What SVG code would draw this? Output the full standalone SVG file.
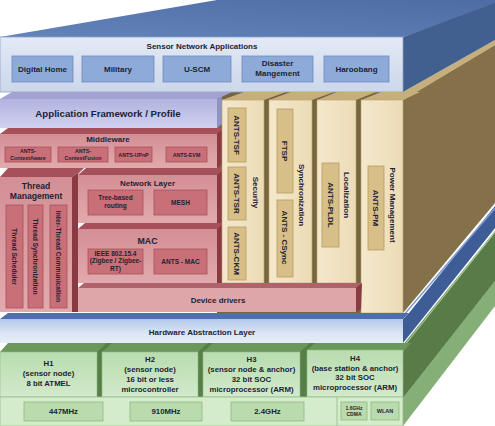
<svg xmlns="http://www.w3.org/2000/svg" width="495" height="426" viewBox="0 0 495 426">
<defs>
<style>
text{font-family:"Liberation Sans",Arial,Helvetica,sans-serif;font-weight:bold;fill:#1d2334;text-anchor:middle}
.s8{font-size:8px}
.s78{font-size:7.8px}
.s67{font-size:6.7px}
.s65{font-size:6.5px}
.s53{font-size:5.3px}
.s5{font-size:5px}
.blueBox{fill:#8eaad8;stroke:#6f8bbf;stroke-width:0.8}
.redBox{fill:#c86f77;stroke:#a8525b;stroke-width:0.8}
.redTop{fill:#a5505a}
.redSide{fill:#8a3a43}
.tanBox{fill:#d8bf88;stroke:#b69c64;stroke-width:0.8}
.tanFront{fill:url(#gTan);stroke:#b9a271;stroke-width:0.6}
.tanTop{fill:#c6af7a}
.olive{fill:#76653f}
.grnBox{fill:#b9dbae;stroke:#8db880;stroke-width:0.8}
.grnFront{fill:url(#gGrn);stroke:#8fb882;stroke-width:0.6}
.grnDiv{fill:#557f47}
</style>
<linearGradient id="gSensor" x1="0" y1="0" x2="0" y2="1"><stop offset="0" stop-color="#e3eaf6"/><stop offset="1" stop-color="#ccd7eb"/></linearGradient>
<linearGradient id="gTop" x1="0" y1="1" x2="1" y2="0"><stop offset="0" stop-color="#6383bb"/><stop offset="1" stop-color="#4d6ca3"/></linearGradient>
<linearGradient id="gLav" x1="0" y1="0" x2="0" y2="1"><stop offset="0" stop-color="#b2b3e0"/><stop offset="1" stop-color="#d0d1ef"/></linearGradient>
<linearGradient id="gRed" x1="0" y1="0" x2="0" y2="1"><stop offset="0" stop-color="#d38f95"/><stop offset="1" stop-color="#e2aaae"/></linearGradient>
<linearGradient id="gTan" x1="0" y1="0" x2="1" y2="0"><stop offset="0" stop-color="#f4e8cc"/><stop offset="1" stop-color="#ecdbb6"/></linearGradient>
<linearGradient id="gHal" x1="0" y1="0" x2="0" y2="1"><stop offset="0" stop-color="#b3c8ea"/><stop offset="0.6" stop-color="#dbe5f5"/><stop offset="1" stop-color="#e6edf8"/></linearGradient>
<linearGradient id="gGrn" x1="0" y1="0" x2="0" y2="1"><stop offset="0" stop-color="#b8dcaf"/><stop offset="1" stop-color="#d2eacb"/></linearGradient>
</defs>
<rect width="495" height="426" fill="#ffffff"/>

<g id="faces">
  <polygon points="403,92 495,40 495,45 403,100" fill="#c6af7a"/>
  <polygon points="403,100 495,45 495,203 403,313" fill="#84714a"/>
  <polygon points="217,92 403,92 403,313 217,313" class="olive"/>
  <polygon points="403,319 409,313 495,206 495,228 403,343" fill="#3e5d97"/>
  <line x1="403" y1="316" x2="495" y2="208" stroke="#7d9bd2" stroke-width="1.5"/>
  <polygon points="403,345 495,231 495,280 403,397" fill="#587b48"/>
  <line x1="404" y1="346" x2="495" y2="232" stroke="#a9cf9c" stroke-width="1.2"/>
  <polygon points="403,397 495,280 495,306 403,426" fill="#86ae77"/>
  <line x1="403" y1="397" x2="495" y2="280" stroke="#3f6634" stroke-width="0.8"/>
</g>

<g id="sensor-apps">
  <polygon points="0,37 403,37 508,0 217,0" fill="url(#gTop)"/>
  <polygon points="403,37 495,3 495,40 403,92" fill="#42608f"/>
  <rect x="0" y="37" width="403" height="55" fill="url(#gSensor)" stroke="#8ea0c4" stroke-width="0.8"/>
  <text class="s8" x="202" y="49">Sensor Network Applications</text>
  <rect class="blueBox" x="12" y="56" width="61" height="26"/>
  <text class="s8" x="42.5" y="72">Digital Home</text>
  <rect class="blueBox" x="82" y="56" width="72" height="26"/>
  <text class="s8" x="118" y="72">Military</text>
  <rect class="blueBox" x="163" y="56" width="68" height="26"/>
  <text class="s8" x="197" y="72">U-SCM</text>
  <rect class="blueBox" x="242" y="56" width="71" height="26"/>
  <text class="s8" x="277.5" y="66">Disaster</text>
  <text class="s8" x="277.5" y="76">Mangement</text>
  <rect class="blueBox" x="324" y="56" width="65" height="26"/>
  <text class="s8" x="356.5" y="72">Haroobang</text>
</g>

<g id="app-framework">
  <polygon points="0,99 217,99 232,92 12,92" fill="#a3a3d3"/>
  <polygon points="217,99 232,92 222,96 222,124 217,128" fill="#9191c2"/>
  <rect x="0" y="99" width="217" height="29" fill="url(#gLav)"/>
  <text x="108" y="116.5" style="font-size:9.7px">Application Framework / Profile</text>
</g>

<g id="middleware">
  <polygon points="0,134 217,134 226,128 8,128" class="redTop"/>
  <polygon points="217,134 222,130 222,164 217,168" class="redSide"/>
  <rect x="0" y="134" width="217" height="34" fill="url(#gRed)"/>
  <text class="s8" x="108" y="142">Middleware</text>
  <rect class="redBox" x="5" y="147" width="46" height="15"/>
  <text class="s53" x="28" y="153">ANTS-</text>
  <text class="s53" x="28" y="159.5">ContextAware</text>
  <rect class="redBox" x="58" y="147" width="50" height="15"/>
  <text class="s53" x="83" y="153">ANTS-</text>
  <text class="s53" x="83" y="159.5">ContextFusion</text>
  <rect class="redBox" x="115" y="147" width="37" height="15"/>
  <text class="s53" x="133.5" y="156.5">ANTS-UPnP</text>
  <rect class="redBox" x="166" y="147" width="41" height="15"/>
  <text class="s53" x="186.5" y="156.5">ANTS-EVM</text>
</g>

<g id="thread-management">
  <polygon points="0,177 72,177 84,168 8,168" class="redTop"/>
  <polygon points="72,177 84,168 78,174 78,312 72,312" class="redSide"/>
  <rect x="0" y="177" width="72" height="135" fill="url(#gRed)"/>
  <text style="font-size:8.6px" x="36" y="188.5">Thread</text>
  <text style="font-size:8.6px" x="36" y="198.5">Management</text>
  <rect class="redBox" x="6" y="205" width="17" height="103"/>
  <rect class="redBox" x="28" y="205" width="15" height="103"/>
  <rect class="redBox" x="50" y="205" width="17" height="103"/>
  <text class="s67" transform="translate(14.5,256.5) rotate(90)" dy="0.35em">Thread Scheduler</text>
  <text class="s67" transform="translate(35.5,256.5) rotate(90)" dy="0.35em">Thread Synchronization</text>
  <text class="s67" transform="translate(58.5,256.5) rotate(90)" dy="0.35em">Inter-Thread Communication</text>
</g>

<g id="network-layer">
  <polygon points="78,175 217,175 226,168 86,168" class="redTop"/>
  <polygon points="217,175 222,171 222,283 217,283" class="redSide"/>
  <rect x="78" y="175" width="139" height="48" fill="url(#gRed)"/>
  <text class="s8" x="147.5" y="186">Network Layer</text>
  <rect class="redBox" x="88" y="190" width="55" height="25"/>
  <text class="s65" x="115.5" y="200">Tree-based</text>
  <text class="s65" x="115.5" y="208">routing</text>
  <rect class="redBox" x="154" y="190" width="53" height="25"/>
  <text class="s65" x="180.5" y="205">MESH</text>
</g>

<g id="mac">
  <polygon points="78,229 217,229 224,223 85,223" class="redTop"/>
  <rect x="78" y="229" width="139" height="54" fill="url(#gRed)"/>
  <text style="font-size:8.8px" x="147.5" y="244">MAC</text>
  <rect class="redBox" x="88" y="249" width="55" height="25"/>
  <text class="s65" x="115.5" y="255.5">IEEE 802.15.4</text>
  <text class="s65" x="115.5" y="263">(Zigbee / Zigbee-</text>
  <text class="s65" x="115.5" y="270.5">RT)</text>
  <rect class="redBox" x="154" y="249" width="53" height="25"/>
  <text class="s65" x="180.5" y="264">ANTS - MAC</text>
</g>

<g id="security">
  <polygon points="222,100 264,100 286,92 244,92" class="tanTop"/>
  <rect class="tanFront" x="222" y="100" width="42" height="183"/>
  <rect class="tanBox" x="228" y="108" width="18" height="54"/>
  <text class="s8" transform="translate(237,135) rotate(90)" dy="0.35em">ANTS-TSF</text>
  <rect class="tanBox" x="228" y="167" width="18" height="53"/>
  <text class="s8" transform="translate(237,193.5) rotate(90)" dy="0.35em">ANTS-TSR</text>
  <rect class="tanBox" x="228" y="227" width="18" height="53"/>
  <text class="s8" transform="translate(237,253.5) rotate(90)" dy="0.35em">ANTS-CKM</text>
  <text class="s8" transform="translate(256,192.5) rotate(90)" dy="0.35em">Security</text>
</g>

<g id="synchronization">
  <polygon points="269,100 312,100 334,92 291,92" class="tanTop"/>
  <rect class="tanFront" x="269" y="100" width="43" height="183"/>
  <rect class="tanBox" x="277" y="109" width="16" height="84"/>
  <text class="s8" transform="translate(285,151) rotate(90)" dy="0.35em">FTSP</text>
  <rect class="tanBox" x="277" y="200" width="16" height="77"/>
  <text class="s8" transform="translate(285,237.5) rotate(90)" dy="0.35em">ANTS - CSync</text>
  <text class="s8" transform="translate(301.5,195) rotate(90)" dy="0.35em">Synchronization</text>
</g>

<g id="localization">
  <polygon points="317,100 356,100 376,92 337,92" class="tanTop"/>
  <rect class="tanFront" x="317" y="100" width="39" height="183"/>
  <rect class="tanBox" x="322" y="163" width="17" height="84"/>
  <text class="s8" transform="translate(330.5,205) rotate(90)" dy="0.35em">ANTS-PLDL</text>
  <text class="s8" transform="translate(346.5,195) rotate(90)" dy="0.35em">Localization</text>
</g>

<g id="power-management">
  <polygon points="361,100 403,100 420,92 381,92" class="tanTop"/>
  <rect class="tanFront" x="361" y="100" width="42" height="213"/>
  <rect class="tanBox" x="368" y="166" width="16" height="84"/>
  <text class="s8" transform="translate(376,208) rotate(90)" dy="0.35em">ANTS-PM</text>
  <text class="s8" transform="translate(393,205) rotate(90)" dy="0.35em">Power Management</text>
</g>

<g id="device-drivers">
  <polygon points="78,288 356,288 362,283 84,283" fill="#b0626a"/>
  <polygon points="356,288 362,283 361,309 356,312" class="redSide"/>
  <rect x="78" y="288" width="278" height="24" fill="#dfa6aa"/>
  <text class="s8" x="218" y="303">Device drivers</text>
</g>

<g id="hal">
  <polygon points="0,319 403,319 409,313 8,313" fill="#4e6fa9"/>
  <rect x="0" y="319" width="403" height="24" fill="url(#gHal)"/>
  <text class="s8" x="202" y="334.5">Hardware Abstraction Layer</text>
</g>

<g id="h-row">
  <polygon points="0,352 403,352 411,343 8,343" fill="#6c975a"/>
  <polygon points="97,352 107,343 112,343 102,352 102,397 97,397" class="grnDiv"/>
  <polygon points="198,352 208,343 213,343 203,352 203,397 198,397" class="grnDiv"/>
  <polygon points="300,352 310,343 315,343 307,350 307,397 300,397" class="grnDiv"/>
</g>
<g id="h1">
  <rect class="grnFront" x="0" y="352" width="97" height="45"/>
  <text class="s78" x="48.5" y="366">H1</text>
  <text class="s78" x="48.5" y="376">(sensor node)</text>
  <text class="s78" x="48.5" y="385.5">8 bit ATMEL</text>
</g>
<g id="h2">
  <rect class="grnFront" x="102" y="352" width="96" height="45"/>
  <text class="s78" x="150" y="362">H2</text>
  <text class="s78" x="150" y="372">(sensor node)</text>
  <text class="s78" x="150" y="381.5">16 bit or less</text>
  <text class="s78" x="150" y="391.5">microcontroller</text>
</g>
<g id="h3">
  <rect class="grnFront" x="203" y="352" width="97" height="45"/>
  <text class="s78" x="251.5" y="362">H3</text>
  <text class="s78" x="251.5" y="372">(sensor node &amp; anchor)</text>
  <text class="s78" x="251.5" y="381.5">32 bit SOC</text>
  <text class="s78" x="251.5" y="391.5">microprocessor (ARM)</text>
</g>
<g id="h4">
  <rect class="grnFront" x="307" y="350" width="96" height="47"/>
  <text class="s78" x="355" y="360.5">H4</text>
  <text class="s78" x="355" y="370.5">(base station &amp; anchor)</text>
  <text class="s78" x="355" y="380">32 bit SOC</text>
  <text class="s78" x="355" y="390">microprocessor (ARM)</text>
</g>

<g id="radio-row">
  <rect x="0" y="397" width="403" height="29" fill="#d4eccc" stroke="#98bf8c" stroke-width="0.8"/>
  <line x1="337" y1="397" x2="337" y2="426" stroke="#9fc394" stroke-width="1"/>
  <rect class="grnBox" x="24" y="402" width="79" height="19"/>
  <text class="s78" x="63.5" y="414">447MHz</text>
  <rect class="grnBox" x="130" y="402" width="72" height="19"/>
  <text class="s78" x="166" y="414">910MHz</text>
  <rect class="grnBox" x="231" y="402" width="73" height="19"/>
  <text class="s78" x="267.5" y="414">2.4GHz</text>
  <rect class="grnBox" x="341" y="402" width="26" height="18"/>
  <text class="s5" x="354" y="409.5">1.6GHz</text>
  <text class="s5" x="354" y="416">CDMA</text>
  <rect class="grnBox" x="371" y="402" width="28" height="18"/>
  <text style="font-size:5.5px" x="385" y="413">WLAN</text>
</g>
</svg>
